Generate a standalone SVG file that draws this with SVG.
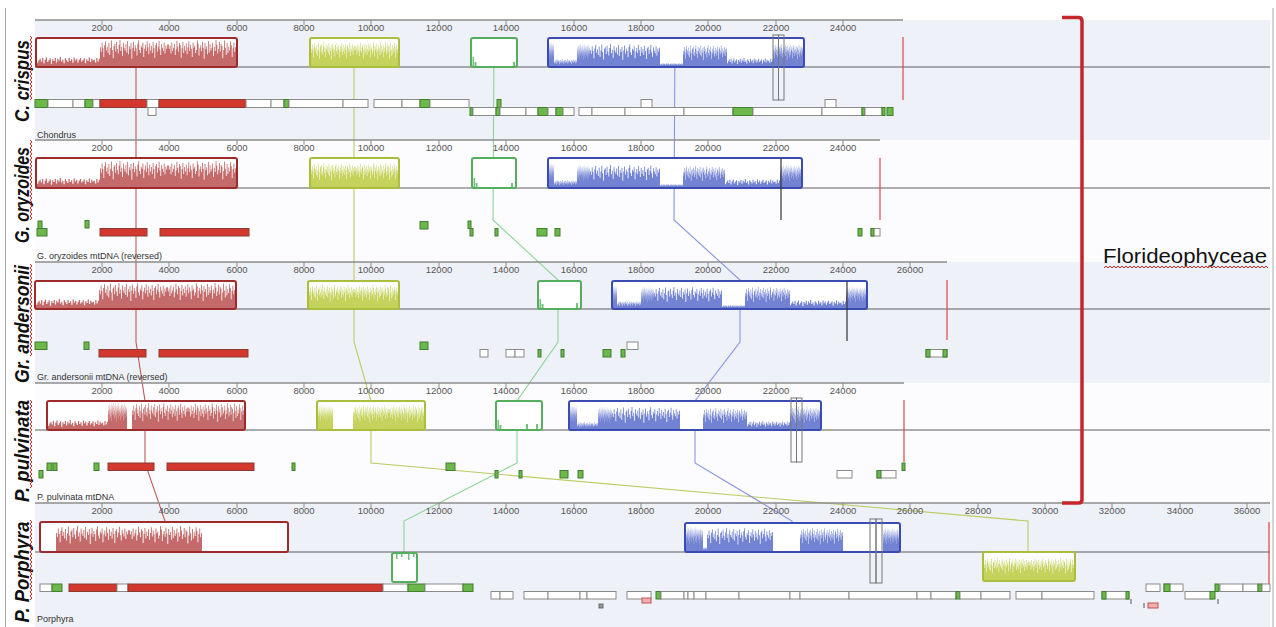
<svg xmlns="http://www.w3.org/2000/svg" xmlns:xlink="http://www.w3.org/1999/xlink" width="1276" height="627" viewBox="0 0 1276 627">
<defs>
<style>
.bandL{fill:#eff1f8}
.bandW{fill:#fcfcfe}
.ruler{stroke:#8c8c8c;stroke-width:1.5}
.tick{stroke:#8c8c8c;stroke-width:1;fill:none}
.tl{font-family:"Liberation Sans",Arial,sans-serif;font-size:9.5px;fill:#555;text-anchor:middle}
.cl{stroke:#5e5e5e;stroke-width:1.2}
.name{font-family:"Liberation Sans",Arial,sans-serif;font-size:9px;fill:#333}
.sp{font-family:"Liberation Sans",Arial,sans-serif;font-size:20px;font-weight:bold;font-style:italic;fill:#111;text-anchor:middle}
.bk{fill:#fff}
.oR{fill:none;stroke:#9e2b2b;stroke-width:2}
.oY{fill:none;stroke:#aabd3c;stroke-width:2}
.oG{fill:none;stroke:#55ad5e;stroke-width:2}
.oB{fill:none;stroke:#3a4bb2;stroke-width:2}
.pR{fill:#c46a6a}
.pY{fill:#c5d35c}
.pG{fill:#74c27e}
.pB{fill:#7383d4}
.fw{fill:#fff;stroke:#8a8a8a;stroke-width:1}
.fr{fill:#d3382e;stroke:#8a3a30;stroke-width:1}
.fg{fill:#6cb84a;stroke:#3f7f2e;stroke-width:1}
.fp{fill:#f0b0b0;stroke:#c05050;stroke-width:1}
.gb{fill:none;stroke:#777;stroke-width:1}
.endR{stroke:#e04545;stroke-width:1.2}
.endK{stroke:#333;stroke-width:1.2}
.con{fill:none;stroke-width:1.1}
.cR{stroke:#c05a5a}
.cY{stroke:#bccb62}
.cG{stroke:#8ed49a}
.cB{stroke:#8a96e0}
.border{stroke:#aaaaaa;stroke-width:1}
</style>
<path id="pA" transform="scale(.625,1)" d="M0 0V-.72H1V-.55H2V-.9H3V-.68H4V-.35H5V-.8H6V-.95H7V-.6H8V-.75H9V-.5H10V-.88H11V-.42H12V-.7H13V-.98H14V-.62H15V-.3H16V-.78H17V-.85H18V-.55H19V-.92H20V-.66H21V-.48H22V-.82H23V-1H24V-.58H25V-.74H26V-.38H27V-.9H28V-.7H29V-.6H30V-.84H31V-.52H32V-.96H33V-.45H34V-.76H35V-.64H36V-.88H37V-.28H38V-.7H39V-.93H40V-.57H41V-.8H42V-.68H43V-.4H44V-.86H45V-.99H46V-.62H47V-.5H48V-.78H49V-.7H50V-.9H51V-.35H52V-.66H53V-.82H54V-.58H55V-.95H56V-.72H57V-.45H58V-.87H59V-.6H60V-.77H61V-.5H62V-.92H63V-.68H64V-.32H65V-.8H66V-.88H67V-.55H68V-.74H69V-.97H70V-.63H71V-.42H72V-.85H73V-.7H74V-.58H75V-.9H76V-.48H77V-.78H78V-.66H79V-.83H80V0Z"/>
<path id="pB" d="M0 0V-.35H1V-.6H2V-.8H3V-.5H4V-.9H5V-.3H6V-.7H7V-.95H8V-.45H9V-.65H10V-.85H11V-.25H12V-.75H13V-.55H14V-.9H15V-.4H16V-.8H17V-.6H18V-1H19V-.5H20V-.7H21V-.3H22V-.85H23V-.65H24V-.45H25V-.9H26V-.55H27V-.75H28V-.35H29V-.95H30V-.6H31V-.8H32V-.4H33V-.7H34V-.9H35V-.5H36V-.65H37V-.85H38V-.3H39V-.75H40V-.55H41V-.95H42V-.45H43V-.8H44V-.6H45V-.7H46V-.4H47V-.9H48V-.5H49V-.8H50V0Z"/>
<pattern id="sqV" patternUnits="userSpaceOnUse" width="4" height="4" patternTransform="translate(1,0)"><path d="M1,0L3,2L1,4" fill="none" stroke="#e02424" stroke-width="1"/></pattern>
<pattern id="sqH" patternUnits="userSpaceOnUse" width="4" height="4" patternTransform="translate(0,1)"><path d="M0,3L2,1L4,3" fill="none" stroke="#e02424" stroke-width="1"/></pattern>
</defs>
<rect width="1276" height="627" fill="#fff"/>
<g id="background">
<rect class="bandL" x="35" y="20" width="1235" height="120"/>
<rect class="bandW" x="35" y="140" width="1235" height="122"/>
<rect class="bandL" x="35" y="262" width="1235" height="121"/>
<rect class="bandW" x="35" y="383" width="1235" height="120"/>
<rect class="bandL" x="35" y="503" width="1235" height="124"/>
<line class="border" x1="5.5" y1="8" x2="5.5" y2="627"/>
<line class="border" x1="1273" y1="8" x2="1273" y2="627"/>
</g>
<g id="connectors">
<polyline class="con cR" points="136,38 136,220 136,280 136,342 145,401 145,463 165,521 165,530"/>
<polyline class="con cY" points="354,38 354,220 354,280 354,342 371,401 371,463 1028,521 1028,555"/>
<polyline class="con cG" points="494,38 493,220 558,280 558,342 517,401 517,463 404,521 404,555"/>
<polyline class="con cB" points="675,38 674,220 740,280 740,342 695,401 695,463 792,521 792,530"/>
</g>
<g id="track-crispus">
<line class="ruler" x1="35" y1="20" x2="903" y2="20"/>
<path class="tick" d="M102,20v5M169,20v5M237,20v5M304,20v5M371,20v5M439,20v5M506,20v5M574,20v5M641,20v5M708,20v5M776,20v5M843,20v5"/>
<text class="tl" y="31"><tspan x="102">2000</tspan><tspan x="169">4000</tspan><tspan x="237">6000</tspan><tspan x="304">8000</tspan><tspan x="371">10000</tspan><tspan x="439">12000</tspan><tspan x="506">14000</tspan><tspan x="574">16000</tspan><tspan x="641">18000</tspan><tspan x="708">20000</tspan><tspan x="776">22000</tspan><tspan x="843">24000</tspan></text>
<line class="cl" x1="35" y1="67" x2="1270" y2="67"/>
<rect class="bk" x="36" y="38" width="201" height="29" rx="2"/>
<use href="#pB" class="pR" transform="translate(37,66) scale(1.26,9)"/>
<use href="#pA" class="pR" transform="translate(100,66) scale(1.36,26)"/>
<use href="#pA" class="pR" transform="translate(236,66) scale(-1.36,26)"/>
<rect class="oR" x="36" y="38" width="201" height="29" rx="2"/>
<rect class="bk" x="310" y="38" width="89" height="29" rx="2"/>
<use href="#pA" class="pY" transform="translate(311,66) scale(.88,24)"/>
<use href="#pA" class="pY" transform="translate(398,66) scale(-.86,24)"/>
<rect class="oY" x="310" y="38" width="89" height="29" rx="2"/>
<rect class="bk" x="471" y="38" width="46" height="29" rx="2"/>
<rect class="pG" x="472.5" y="57" width="1.5" height="9"/>
<rect class="pG" x="474.5" y="62" width="2" height="4"/>
<rect class="pG" x="513" y="62" width="2" height="4"/>
<rect class="oG" x="471" y="38" width="46" height="29" rx="2"/>
<rect class="bk" x="548" y="38" width="256" height="29" rx="2"/>
<use href="#pA" class="pB" transform="translate(549,66) scale(.1,24)"/>
<use href="#pB" class="pB" transform="translate(554,66) scale(.46,7)"/>
<use href="#pA" class="pB" transform="translate(577,66) scale(.26,22)"/>
<use href="#pA" class="pB" transform="translate(590,66) scale(1.4,22)"/>
<use href="#pB" class="pB" transform="translate(660,66) scale(.46,3)"/>
<use href="#pA" class="pB" transform="translate(683,66) scale(.88,21)"/>
<use href="#pB" class="pB" transform="translate(727,66) scale(.92,8)"/>
<use href="#pA" class="pB" transform="translate(773,66) scale(.6,22)"/>
<rect class="oB" x="548" y="38" width="256" height="29" rx="2"/>
<rect class="gb" x="773" y="35" width="5.5" height="65"/>
<rect class="gb" x="778.5" y="35" width="5.5" height="65"/>
<line class="endR" x1="903" y1="37" x2="903" y2="100"/>
<g>
<rect class="fg" x="35" y="99.5" width="12.5" height="8"/>
<rect class="fw" x="48" y="99.5" width="25" height="8"/>
<rect class="fw" x="73" y="99.5" width="12" height="8"/>
<rect class="fg" x="85" y="99.5" width="8" height="8"/>
<rect class="fw" x="93" y="99.5" width="7" height="8"/>
<rect class="fr" x="100" y="99.5" width="47" height="8"/>
<rect class="fw" x="147" y="99.5" width="12" height="8"/>
<rect class="fr" x="159" y="99.5" width="87" height="8"/>
<rect class="fw" x="246" y="99.5" width="25" height="8"/>
<rect class="fw" x="271" y="99.5" width="13" height="8"/>
<rect class="fg" x="284" y="99.5" width="5" height="8"/>
<rect class="fw" x="289" y="99.5" width="54" height="8"/>
<rect class="fw" x="343" y="99.5" width="25" height="8"/>
<rect class="fw" x="374" y="99.5" width="28" height="8"/>
<rect class="fw" x="402" y="99.5" width="18" height="8"/>
<rect class="fg" x="420" y="99.5" width="10" height="8"/>
<rect class="fw" x="430" y="99.5" width="39" height="8"/>
<rect class="fg" x="497" y="99.5" width="4" height="8"/>
<rect class="fw" x="641" y="99.5" width="11" height="8"/>
<rect class="fw" x="825" y="99.5" width="11" height="8"/>
<rect class="fw" x="148" y="107.5" width="8" height="8"/>
<rect class="fg" x="470" y="107.5" width="3" height="8"/>
<rect class="fw" x="473" y="107.5" width="23" height="8"/>
<rect class="fg" x="496" y="107.5" width="4" height="8"/>
<rect class="fw" x="500" y="107.5" width="26" height="8"/>
<rect class="fw" x="526" y="107.5" width="12" height="8"/>
<rect class="fg" x="538" y="107.5" width="10" height="8"/>
<rect class="fw" x="548" y="107.5" width="8" height="8"/>
<rect class="fg" x="556" y="107.5" width="7" height="8"/>
<rect class="fw" x="563" y="107.5" width="11" height="8"/>
<rect class="fw" x="579" y="107.5" width="13" height="8"/>
<rect class="fw" x="592" y="107.5" width="33" height="8"/>
<rect class="fw" x="625" y="107.5" width="59" height="8"/>
<rect class="fw" x="684" y="107.5" width="49" height="8"/>
<rect class="fg" x="733" y="107.5" width="20" height="8"/>
<rect class="fw" x="753" y="107.5" width="69" height="8"/>
<rect class="fw" x="822" y="107.5" width="40" height="8"/>
<rect class="fg" x="862" y="107.5" width="3" height="8"/>
<rect class="fw" x="865" y="107.5" width="17" height="8"/>
<rect class="fg" x="882" y="107.5" width="3" height="8"/>
<rect class="fg" x="887" y="107.5" width="6" height="8"/>
</g>
<text class="name" x="37" y="138">Chondrus</text>
<text class="sp" transform="translate(29,81) rotate(-90)" textLength="82" lengthAdjust="spacingAndGlyphs">C. crispus</text>
<rect x="29" y="36" width="4" height="64" fill="url(#sqV)"/>
</g>
<g id="track-oryzoides">
<line class="ruler" x1="35" y1="140" x2="880" y2="140"/>
<path class="tick" d="M102,140v5M169,140v5M237,140v5M304,140v5M371,140v5M439,140v5M506,140v5M574,140v5M641,140v5M708,140v5M776,140v5M843,140v5"/>
<text class="tl" y="151"><tspan x="102">2000</tspan><tspan x="169">4000</tspan><tspan x="237">6000</tspan><tspan x="304">8000</tspan><tspan x="371">10000</tspan><tspan x="439">12000</tspan><tspan x="506">14000</tspan><tspan x="574">16000</tspan><tspan x="641">18000</tspan><tspan x="708">20000</tspan><tspan x="776">22000</tspan><tspan x="843">24000</tspan></text>
<line class="cl" x1="35" y1="188" x2="1270" y2="188"/>
<rect class="bk" x="36" y="158" width="201" height="30" rx="2"/>
<use href="#pB" class="pR" transform="translate(37,187) scale(1.26,9)"/>
<use href="#pA" class="pR" transform="translate(100,187) scale(1.36,26)"/>
<use href="#pA" class="pR" transform="translate(236,187) scale(-1.36,26)"/>
<rect class="oR" x="36" y="158" width="201" height="30" rx="2"/>
<rect class="bk" x="310" y="158" width="89" height="30" rx="2"/>
<use href="#pA" class="pY" transform="translate(311,187) scale(.88,24)"/>
<use href="#pA" class="pY" transform="translate(398,187) scale(-.86,24)"/>
<rect class="oY" x="310" y="158" width="89" height="30" rx="2"/>
<rect class="bk" x="472" y="158" width="44" height="30" rx="2"/>
<rect class="pG" x="473.5" y="178" width="1.5" height="9"/>
<rect class="pG" x="475.5" y="183" width="2" height="4"/>
<rect class="pG" x="511" y="183" width="2" height="4"/>
<rect class="oG" x="472" y="158" width="44" height="30" rx="2"/>
<rect class="bk" x="548" y="158" width="254" height="30" rx="2"/>
<use href="#pA" class="pB" transform="translate(549,187) scale(.1,24)"/>
<use href="#pB" class="pB" transform="translate(554,187) scale(.46,7)"/>
<use href="#pA" class="pB" transform="translate(577,187) scale(.26,22)"/>
<use href="#pA" class="pB" transform="translate(590,187) scale(1.4,22)"/>
<use href="#pB" class="pB" transform="translate(660,187) scale(.46,3)"/>
<use href="#pA" class="pB" transform="translate(683,187) scale(.84,21)"/>
<use href="#pB" class="pB" transform="translate(725,187) scale(1.1,8)"/>
<use href="#pA" class="pB" transform="translate(780,187) scale(.42,22)"/>
<rect class="oB" x="548" y="158" width="254" height="30" rx="2"/>
<line class="endK" x1="781" y1="158" x2="781" y2="220"/>
<line class="endR" x1="880" y1="158" x2="880" y2="220"/>
<g>
<rect class="fg" x="38" y="221" width="4" height="7.5"/>
<rect class="fg" x="37" y="228.5" width="10" height="7.5"/>
<rect class="fg" x="85" y="220.5" width="4" height="7.5"/>
<rect class="fr" x="100" y="228.5" width="47" height="7.5"/>
<rect class="fr" x="160" y="228.5" width="89" height="7.5"/>
<rect class="fg" x="420" y="221.5" width="8" height="7.5"/>
<rect class="fg" x="468" y="221" width="3" height="7.5"/>
<rect class="fg" x="470" y="228.5" width="3" height="7.5"/>
<rect class="fg" x="495" y="228.5" width="3" height="7.5"/>
<rect class="fg" x="537" y="228.5" width="10" height="7.5"/>
<rect class="fg" x="555" y="228.5" width="5" height="7.5"/>
<rect class="fg" x="858" y="228.5" width="4" height="7.5"/>
<rect class="fw" x="871" y="228.5" width="9" height="7.5"/>
<rect class="fg" x="871" y="228.5" width="3" height="7.5"/>
</g>
<text class="name" x="37" y="259">G. oryzoides mtDNA (reversed)</text>
<text class="sp" transform="translate(29,195) rotate(-90)" textLength="96" lengthAdjust="spacingAndGlyphs">G. oryzoides</text>
<rect x="29" y="140" width="4" height="80" fill="url(#sqV)"/>
</g>
<g id="track-andersonii">
<line class="ruler" x1="35" y1="262" x2="947" y2="262"/>
<path class="tick" d="M102,262v5M169,262v5M237,262v5M304,262v5M371,262v5M439,262v5M506,262v5M574,262v5M641,262v5M708,262v5M776,262v5M843,262v5M910,262v5"/>
<text class="tl" y="273"><tspan x="102">2000</tspan><tspan x="169">4000</tspan><tspan x="237">6000</tspan><tspan x="304">8000</tspan><tspan x="371">10000</tspan><tspan x="439">12000</tspan><tspan x="506">14000</tspan><tspan x="574">16000</tspan><tspan x="641">18000</tspan><tspan x="708">20000</tspan><tspan x="776">22000</tspan><tspan x="843">24000</tspan><tspan x="910">26000</tspan></text>
<line class="cl" x1="35" y1="309" x2="1270" y2="309"/>
<rect class="bk" x="35" y="281" width="201" height="28" rx="2"/>
<use href="#pB" class="pR" transform="translate(36,308) scale(1.26,9)"/>
<use href="#pA" class="pR" transform="translate(99,308) scale(1.36,25)"/>
<use href="#pA" class="pR" transform="translate(235,308) scale(-1.36,25)"/>
<rect class="oR" x="35" y="281" width="201" height="28" rx="2"/>
<rect class="bk" x="308" y="281" width="91" height="28" rx="2"/>
<use href="#pA" class="pY" transform="translate(309,308) scale(.9,23)"/>
<use href="#pA" class="pY" transform="translate(398,308) scale(-.88,23)"/>
<rect class="oY" x="308" y="281" width="91" height="28" rx="2"/>
<rect class="bk" x="538" y="281" width="43" height="28" rx="2"/>
<rect class="pG" x="539.5" y="299" width="1.5" height="9"/>
<rect class="pG" x="541.5" y="304" width="2" height="4"/>
<rect class="pG" x="576" y="303" width="2" height="5"/>
<rect class="oG" x="538" y="281" width="43" height="28" rx="2"/>
<rect class="bk" x="612" y="281" width="255" height="28" rx="2"/>
<use href="#pA" class="pB" transform="translate(613,308) scale(.08,23)"/>
<use href="#pB" class="pB" transform="translate(617,308) scale(.48,7)"/>
<use href="#pA" class="pB" transform="translate(641,308) scale(.26,21)"/>
<use href="#pA" class="pB" transform="translate(654,308) scale(1.36,21)"/>
<use href="#pB" class="pB" transform="translate(722,308) scale(.46,3)"/>
<use href="#pA" class="pB" transform="translate(745,308) scale(.9,21)"/>
<use href="#pB" class="pB" transform="translate(790,308) scale(1.12,8)"/>
<use href="#pA" class="pB" transform="translate(846,308) scale(.42,21)"/>
<rect class="oB" x="612" y="281" width="255" height="28" rx="2"/>
<line class="endK" x1="847" y1="281" x2="847" y2="341"/>
<line class="endR" x1="947" y1="280" x2="947" y2="340"/>
<g>
<rect class="fg" x="35" y="342" width="12" height="7.5"/>
<rect class="fg" x="84" y="342" width="5" height="7.5"/>
<rect class="fr" x="99" y="349.5" width="47" height="7.5"/>
<rect class="fr" x="159" y="349.5" width="89" height="7.5"/>
<rect class="fg" x="420" y="342" width="8" height="7.5"/>
<rect class="fw" x="480" y="349.5" width="8" height="7.5"/>
<rect class="fw" x="506" y="349.5" width="9" height="7.5"/>
<rect class="fw" x="515" y="349.5" width="9" height="7.5"/>
<rect class="fg" x="538" y="349.5" width="3" height="7.5"/>
<rect class="fg" x="561" y="349.5" width="3" height="7.5"/>
<rect class="fg" x="603" y="349.5" width="8" height="7.5"/>
<rect class="fg" x="621" y="349.5" width="4" height="7.5"/>
<rect class="fw" x="627" y="342" width="11" height="7.5"/>
<rect class="fw" x="926" y="349.5" width="21" height="7.5"/>
<rect class="fg" x="926" y="349.5" width="4" height="7.5"/>
<rect class="fg" x="943" y="349.5" width="4" height="7.5"/>
</g>
<text class="name" x="37" y="380">Gr. andersonii mtDNA (reversed)</text>
<text class="sp" transform="translate(29,324) rotate(-90)" textLength="118" lengthAdjust="spacingAndGlyphs">Gr. andersonii</text>
<rect x="29" y="264" width="4" height="92" fill="url(#sqV)"/>
</g>
<g id="track-pulvinata">
<line class="ruler" x1="35" y1="383" x2="904" y2="383"/>
<path class="tick" d="M102,383v5M169,383v5M237,383v5M304,383v5M371,383v5M439,383v5M506,383v5M574,383v5M641,383v5M708,383v5M776,383v5M843,383v5"/>
<text class="tl" y="394"><tspan x="102">2000</tspan><tspan x="169">4000</tspan><tspan x="237">6000</tspan><tspan x="304">8000</tspan><tspan x="371">10000</tspan><tspan x="439">12000</tspan><tspan x="506">14000</tspan><tspan x="574">16000</tspan><tspan x="641">18000</tspan><tspan x="708">20000</tspan><tspan x="776">22000</tspan><tspan x="843">24000</tspan></text>
<line class="cl" x1="35" y1="430" x2="1270" y2="430"/>
<rect class="bk" x="47" y="401" width="198" height="29" rx="2"/>
<use href="#pB" class="pR" transform="translate(48,429) scale(1.2,9)"/>
<use href="#pA" class="pR" transform="translate(108,429) scale(.38,26)"/>
<use href="#pA" class="pR" transform="translate(132,429) scale(1.12,26)"/>
<use href="#pA" class="pR" transform="translate(244,429) scale(-1.12,26)"/>
<rect class="oR" x="47" y="401" width="198" height="29" rx="2"/>
<rect class="bk" x="317" y="401" width="108" height="29" rx="2"/>
<use href="#pA" class="pY" transform="translate(318,429) scale(.3,24)"/>
<use href="#pA" class="pY" transform="translate(353,429) scale(.72,24)"/>
<use href="#pA" class="pY" transform="translate(424,429) scale(-.7,24)"/>
<rect class="oY" x="317" y="401" width="108" height="29" rx="2"/>
<rect class="bk" x="496" y="401" width="46" height="29" rx="2"/>
<rect class="pG" x="497.5" y="420" width="1.5" height="9"/>
<rect class="pG" x="499.5" y="425" width="2" height="4"/>
<rect class="pG" x="526" y="424" width="2" height="5"/>
<rect class="pG" x="536" y="424" width="2" height="5"/>
<rect class="oG" x="496" y="401" width="46" height="29" rx="2"/>
<rect class="bk" x="569" y="401" width="252" height="29" rx="2"/>
<use href="#pA" class="pB" transform="translate(570,429) scale(.14,24)"/>
<use href="#pB" class="pB" transform="translate(577,429) scale(.42,7)"/>
<use href="#pA" class="pB" transform="translate(598,429) scale(.28,22)"/>
<use href="#pA" class="pB" transform="translate(612,429) scale(1.36,22)"/>
<use href="#pA" class="pB" transform="translate(703,429) scale(.88,21)"/>
<use href="#pB" class="pB" transform="translate(747,429) scale(.86,8)"/>
<use href="#pA" class="pB" transform="translate(790,429) scale(.6,22)"/>
<rect class="oB" x="569" y="401" width="252" height="29" rx="2"/>
<rect class="gb" x="791" y="398" width="5.5" height="64"/>
<rect class="gb" x="796.5" y="398" width="5.5" height="64"/>
<line class="endR" x1="904" y1="400" x2="904" y2="462"/>
<g>
<rect class="fg" x="39" y="470.5" width="4" height="7.5"/>
<rect class="fg" x="47" y="463" width="5" height="7.5"/>
<rect class="fg" x="53" y="463" width="4" height="7.5"/>
<rect class="fg" x="94" y="463" width="5" height="7.5"/>
<rect class="fr" x="108" y="463" width="46" height="7.5"/>
<rect class="fr" x="167" y="463" width="87" height="7.5"/>
<rect class="fg" x="292" y="463" width="3" height="7.5"/>
<rect class="fg" x="446" y="463" width="9" height="7.5"/>
<rect class="fg" x="495" y="470.5" width="3" height="7.5"/>
<rect class="fg" x="519" y="470.5" width="3" height="7.5"/>
<rect class="fg" x="560" y="470.5" width="8" height="7.5"/>
<rect class="fg" x="578" y="470.5" width="5" height="7.5"/>
<rect class="fw" x="837" y="470.5" width="15" height="7.5"/>
<rect class="fw" x="877" y="470.5" width="19" height="7.5"/>
<rect class="fg" x="877" y="470.5" width="4" height="7.5"/>
<rect class="fg" x="902" y="463" width="3" height="7.5"/>
</g>
<text class="name" x="37" y="500">P. pulvinata mtDNA</text>
<text class="sp" transform="translate(29,451) rotate(-90)" textLength="102" lengthAdjust="spacingAndGlyphs">P. pulvinata</text>
<rect x="29" y="400" width="4" height="88" fill="url(#sqV)"/>
</g>
<g id="track-porphyra">
<line class="ruler" x1="35" y1="503" x2="1270" y2="503"/>
<path class="tick" d="M102,503v5M169,503v5M237,503v5M304,503v5M371,503v5M439,503v5M506,503v5M574,503v5M641,503v5M708,503v5M776,503v5M843,503v5M910,503v5M978,503v5M1045,503v5M1112,503v5M1180,503v5M1247,503v5"/>
<text class="tl" y="514"><tspan x="102">2000</tspan><tspan x="169">4000</tspan><tspan x="237">6000</tspan><tspan x="304">8000</tspan><tspan x="371">10000</tspan><tspan x="439">12000</tspan><tspan x="506">14000</tspan><tspan x="574">16000</tspan><tspan x="641">18000</tspan><tspan x="708">20000</tspan><tspan x="776">22000</tspan><tspan x="843">24000</tspan><tspan x="910">26000</tspan><tspan x="978">28000</tspan><tspan x="1045">30000</tspan><tspan x="1112">32000</tspan><tspan x="1180">34000</tspan><tspan x="1247">36000</tspan></text>
<line class="cl" x1="35" y1="552" x2="1270" y2="552"/>
<rect class="bk" x="40" y="522" width="248" height="30" rx="2"/>
<use href="#pA" class="pR" transform="translate(56,551) scale(1.46,25)"/>
<use href="#pA" class="pR" transform="translate(202,551) scale(-1.46,25)"/>
<rect class="oR" x="40" y="522" width="248" height="30" rx="2"/>
<rect class="bk" x="392" y="553" width="25" height="29" rx="2"/>
<rect class="pG" x="396" y="554" width="1.5" height="5"/>
<rect class="pG" x="401" y="554" width="1.5" height="3"/>
<rect class="pG" x="408" y="554" width="1.5" height="6"/>
<rect class="pG" x="413" y="554" width="1.5" height="3"/>
<rect class="oG" x="392" y="553" width="25" height="29" rx="2"/>
<rect class="bk" x="685" y="523" width="215" height="29" rx="2"/>
<use href="#pA" class="pB" transform="translate(686,551) scale(.34,24)"/>
<use href="#pB" class="pB" transform="translate(703,551) scale(.08,4)"/>
<use href="#pA" class="pB" transform="translate(707,551) scale(1.32,23)"/>
<use href="#pA" class="pB" transform="translate(800,551) scale(.86,23)"/>
<use href="#pA" class="pB" transform="translate(883,551) scale(.34,23)"/>
<rect class="oB" x="685" y="523" width="215" height="29" rx="2"/>
<rect class="bk" x="983" y="552" width="92" height="29" rx="2"/>
<use href="#pA" class="pY" transform="translate(984,580) scale(.9,22)"/>
<use href="#pA" class="pY" transform="translate(1074,580) scale(-.9,22)"/>
<rect class="oY" x="983" y="552" width="92" height="29" rx="2"/>
<rect class="gb" x="870" y="519" width="6" height="64"/>
<rect class="gb" x="876" y="519" width="6" height="64"/>
<line class="endR" x1="1269" y1="522" x2="1269" y2="585"/>
<g>
<rect class="fw" x="40" y="584" width="12" height="7.5"/>
<rect class="fg" x="52" y="584" width="10" height="7.5"/>
<rect class="fr" x="69" y="584" width="48" height="7.5"/>
<rect class="fw" x="117" y="584" width="11" height="7.5"/>
<rect class="fr" x="128" y="584" width="255" height="7.5"/>
<rect class="fw" x="383" y="584" width="25" height="7.5"/>
<rect class="fg" x="408" y="584" width="17" height="7.5"/>
<rect class="fw" x="425" y="584" width="38" height="7.5"/>
<rect class="fg" x="463" y="584" width="10" height="7.5"/>
<rect class="fw" x="491" y="591.5" width="9" height="7.5"/>
<rect class="fw" x="500" y="591.5" width="13" height="7.5"/>
<rect class="fw" x="524" y="591.5" width="24" height="7.5"/>
<rect class="fw" x="548" y="591.5" width="32" height="7.5"/>
<rect class="fw" x="580" y="591.5" width="7" height="7.5"/>
<rect class="fw" x="587" y="591.5" width="29" height="7.5"/>
<rect x="599" y="604" width="4" height="4" fill="#999" stroke="#555" stroke-width=".8"/>
<rect class="fw" x="627" y="591.5" width="24" height="7.5"/>
<rect class="fp" x="642" y="598" width="9" height="5"/>
<rect class="fg" x="656" y="591.5" width="5" height="7.5"/>
<rect class="fw" x="661" y="591.5" width="23" height="7.5"/>
<rect class="fw" x="684" y="591.5" width="4" height="7.5"/>
<rect class="fw" x="688" y="591.5" width="6" height="7.5"/>
<rect class="fw" x="694" y="591.5" width="12" height="7.5"/>
<rect class="fw" x="706" y="591.5" width="33" height="7.5"/>
<rect class="fw" x="739" y="591.5" width="51" height="7.5"/>
<rect class="fw" x="790" y="591.5" width="10" height="7.5"/>
<rect class="fw" x="800" y="591.5" width="49" height="7.5"/>
<rect class="fw" x="849" y="591.5" width="68" height="7.5"/>
<rect class="fw" x="917" y="591.5" width="14" height="7.5"/>
<rect class="fw" x="931" y="591.5" width="25" height="7.5"/>
<rect class="fg" x="956" y="591.5" width="4" height="7.5"/>
<rect class="fw" x="960" y="591.5" width="21" height="7.5"/>
<rect class="fw" x="981" y="591.5" width="29" height="7.5"/>
<rect class="fw" x="1016" y="591.5" width="26" height="7.5"/>
<rect class="fw" x="1042" y="591.5" width="52" height="7.5"/>
<rect class="fw" x="1102" y="591.5" width="27" height="7.5"/>
<rect class="fg" x="1102" y="591.5" width="4" height="7.5"/>
<rect class="fg" x="1126" y="591.5" width="3" height="7.5"/>
<path d="M1131,599v5M1144,603v5M1218,599v5" stroke="#555" stroke-width="1"/>
<rect class="fp" x="1148" y="603" width="10" height="5"/>
<rect class="fw" x="1146" y="584" width="14" height="7.5"/>
<rect class="fw" x="1164" y="584" width="19" height="7.5"/>
<rect class="fg" x="1164" y="584" width="6" height="7.5"/>
<rect class="fw" x="1185" y="591.5" width="28" height="7.5"/>
<rect class="fg" x="1210" y="591.5" width="5" height="7.5"/>
<rect class="fg" x="1215" y="584" width="4" height="7.5"/>
<rect class="fw" x="1220" y="584" width="23" height="7.5"/>
<rect class="fw" x="1243" y="584" width="15" height="7.5"/>
<rect class="fg" x="1258" y="584" width="4" height="7.5"/>
<rect class="fw" x="1262" y="584" width="8" height="7.5"/>
</g>
<text class="name" x="37" y="622">Porphyra</text>
<text class="sp" transform="translate(29,572) rotate(-90)" textLength="101" lengthAdjust="spacingAndGlyphs">P. Porphyra</text>
<rect x="29" y="520" width="4" height="80" fill="url(#sqV)"/>
</g>
<g id="group-florideophyceae">
<path d="M1062,17.5H1078.5Q1082,17.5 1082,21V499.5Q1082,503 1078.5,503H1062" fill="none" stroke="#c4262b" stroke-width="3.5"/>
<text x="1103" y="263" font-family="'Liberation Sans',Arial,sans-serif" font-size="21" fill="#111" textLength="164" lengthAdjust="spacingAndGlyphs">Florideophyceae</text>
<rect x="1104" y="265" width="164" height="4" fill="url(#sqH)"/>
</g>
</svg>
